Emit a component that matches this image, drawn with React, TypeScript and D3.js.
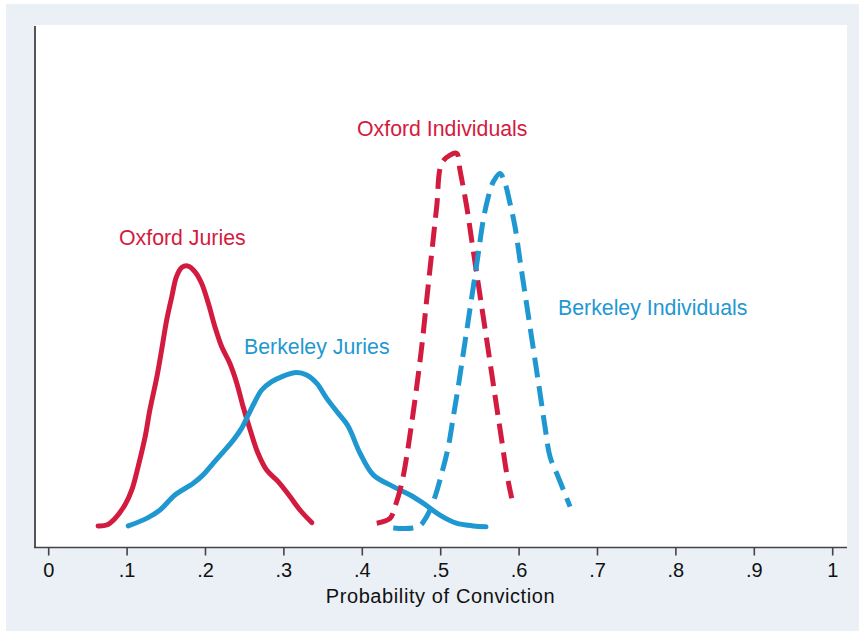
import React from "react";
import * as d3 from "d3";

// x = probability of conviction, y = estimated density
const oxfordJuriesX = [0.063, 0.074, 0.0846, 0.0972, 0.106, 0.114, 0.123, 0.129, 0.138, 0.144, 0.1505, 0.157, 0.163, 0.17, 0.178, 0.1866, 0.195, 0.2036, 0.212, 0.2207, 0.231, 0.24, 0.248, 0.257, 0.267, 0.278, 0.293, 0.308, 0.3205, 0.3355];
const oxfordJuriesY = [0.07, 0.1, 0.32, 0.77, 1.27, 2.04, 3.04, 3.93, 5.04, 5.93, 6.93, 7.71, 8.38, 8.69, 8.73, 8.54, 8.16, 7.49, 6.71, 6.04, 5.49, 4.82, 4.04, 3.27, 2.49, 1.93, 1.54, 1.04, 0.6, 0.18];

const berkeleyJuriesX = [0.1015, 0.125, 0.142, 0.161, 0.1844, 0.197, 0.21, 0.2227, 0.2355, 0.246, 0.2546, 0.263, 0.2717, 0.2844, 0.297, 0.316, 0.329, 0.342, 0.3546, 0.3694, 0.3818, 0.397, 0.414, 0.4395, 0.461, 0.478, 0.499, 0.52, 0.5416, 0.5578];
const berkeleyJuriesY = [0.07, 0.32, 0.6, 1.1, 1.49, 1.77, 2.16, 2.54, 2.93, 3.32, 3.77, 4.21, 4.6, 4.88, 5.04, 5.18, 5.1, 4.82, 4.32, 3.82, 3.4, 2.5, 1.77, 1.38, 1.1, 0.82, 0.43, 0.16, 0.07, 0.04];

const oxfordIndivX = [0.4184, 0.4353, 0.4417, 0.4503, 0.4566, 0.463, 0.4694, 0.4758, 0.4821, 0.4885, 0.4949, 0.5013, 0.5119, 0.5204, 0.5246, 0.5332, 0.5395, 0.5459, 0.5523, 0.5587, 0.565, 0.5714, 0.5778, 0.5842, 0.5906];
const oxfordIndivY = [0.16, 0.32, 0.71, 1.49, 2.38, 3.49, 4.71, 6.04, 7.6, 9.16, 10.71, 12.16, 12.43, 12.49, 11.93, 10.71, 9.6, 8.49, 7.38, 6.27, 5.16, 4.04, 2.93, 1.82, 0.99];

const berkeleyIndivX = [0.4395, 0.4714, 0.4821, 0.4927, 0.5013, 0.5097, 0.5161, 0.5224, 0.5288, 0.5352, 0.5416, 0.548, 0.5543, 0.5607, 0.5671, 0.5756, 0.582, 0.5884, 0.5948, 0.6011, 0.6075, 0.6139, 0.6203, 0.6267, 0.633, 0.6394, 0.648, 0.6565, 0.665];
const berkeleyIndivY = [0.0, 0.04, 0.38, 1.04, 1.82, 2.71, 3.71, 4.71, 5.82, 6.93, 8.04, 9.16, 10.27, 11.04, 11.54, 11.82, 11.49, 10.82, 10.04, 8.93, 7.82, 6.71, 5.6, 4.49, 3.38, 2.38, 1.82, 1.27, 0.71];

const xTicks = [0, 0.1, 0.2, 0.3, 0.4, 0.5, 0.6, 0.7, 0.8, 0.9, 1];
const xTickLabels = ["0", ".1", ".2", ".3", ".4", ".5", ".6", ".7", ".8", ".9", "1"];

const seriesNames = ["Oxford Juries", "Berkeley Juries", "Oxford Individuals", "Berkeley Individuals"];
const axisTitle = "Probability of Conviction";

const RED = "#d31b40";
const BLUE = "#1f98d2";

export default function App() {
  const W = 859, H = 631;
  const x = d3.scaleLinear().domain([0, 1]).range([48.7, 832.7]);
  const y = d3.scaleLinear().domain([0, 14]).range([528, 108]);
  const line = d3
    .line<[number, number]>()
    .x((d) => x(d[0]))
    .y((d) => y(d[1]))
    .curve(d3.curveCatmullRom.alpha(0.5));
  const zip = (a: number[], b: number[]) => a.map((v, i) => [v, b[i]] as [number, number]);

  const series = [
    { name: seriesNames[0], xs: oxfordJuriesX, ys: oxfordJuriesY, color: RED, dash: null },
    { name: seriesNames[1], xs: berkeleyJuriesX, ys: berkeleyJuriesY, color: BLUE, dash: null },
    { name: seriesNames[2], xs: oxfordIndivX, ys: oxfordIndivY, color: RED, dash: "20 9" },
    { name: seriesNames[3], xs: berkeleyIndivX, ys: berkeleyIndivY, color: BLUE, dash: "20 9" },
  ];

  const labels = [
    { text: seriesNames[0], x: 119, y: 245, color: RED },
    { text: seriesNames[1], x: 244, y: 354, color: BLUE },
    { text: seriesNames[2], x: 357, y: 136, color: RED },
    { text: seriesNames[3], x: 558, y: 315, color: BLUE },
  ];

  const font = "Helvetica, 'Liberation Sans', Arial, sans-serif";

  return (
    <svg
      width={W}
      height={H}
      style={{ position: "absolute", left: 0, top: 0, background: "#fff" }}
      fontFamily={font}
    >
      <rect x={6} y={4} width={W - 6} height={H - 4} fill="#eaf0f5" />
      <rect x={35} y={25} width={812} height={523} fill="#fff" />
      {series.map((s) => (
        <path
          key={s.name}
          d={line(zip(s.xs, s.ys)) || ""}
          fill="none"
          stroke={s.color}
          strokeWidth={5}
          strokeLinecap={s.dash ? "butt" : "round"}
          strokeLinejoin="round"
          strokeDasharray={s.dash || undefined}
        />
      ))}
      {labels.map((l) => (
        <text key={l.text} x={l.x} y={l.y} fill={l.color} fontSize={21.3}>
          {l.text}
        </text>
      ))}
      {/* axes */}
      <line x1={35} y1={26} x2={35} y2={548} stroke="#555" strokeWidth={2} />
      <line x1={34} y1={547.5} x2={847} y2={547.5} stroke="#444" strokeWidth={1.6} />
      {xTicks.map((t, i) => (
        <g key={t}>
          <line x1={x(t)} x2={x(t)} y1={547} y2={555.5} stroke="#444" strokeWidth={1.6} />
          <text x={x(t)} y={577} textAnchor="middle" fontSize={20} fill="#111">
            {xTickLabels[i]}
          </text>
        </g>
      ))}
      <text x={440.5} y={602.5} textAnchor="middle" fontSize={20} fill="#111" letterSpacing={0.6}>
        {axisTitle}
      </text>
    </svg>
  );
}
